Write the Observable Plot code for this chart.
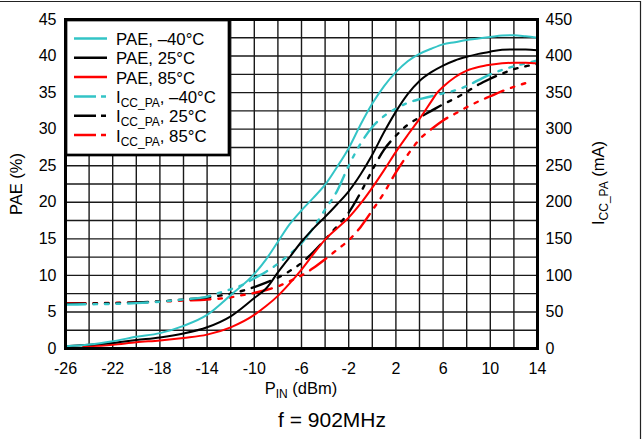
<!DOCTYPE html>
<html><head><meta charset="utf-8">
<script src="https://cdn.jsdelivr.net/npm/d3@7"></script>
<script src="https://cdn.jsdelivr.net/npm/@observablehq/plot@0.6"></script>
<style>
body{margin:0;background:#fff;}
#chart{position:relative;width:644px;height:439px;overflow:hidden;}
</style></head><body><div id="chart"></div>
<script>
// ---- data ----
const pae40X = [-26,-24,-22,-20,-18,-16,-14,-12,-10,-9,-8,-7,-6,-5,-4,-3,-2,-1,0,1,2,3,4,5,6,7,8,9,10,11,12,13,14];
const pae40Y = [0.3,0.55,1.0,1.6,2.1,3.1,4.6,7.3,10.2,12.2,14.6,17.0,18.9,20.6,22.4,24.8,27.4,30.6,33.5,35.9,37.8,39.3,40.3,41.0,41.6,41.9,42.2,42.4,42.6,42.8,42.85,42.7,42.5];
const pae25X = [-26,-24,-22,-20,-18,-16,-14,-12,-10,-9,-8,-7,-6,-5,-4,-3,-2,-1,0,1,2,3,4,5,6,7,8,9,10,11,12,13,14];
const pae25Y = [0.3,0.5,0.75,1.15,1.5,2.05,2.9,4.4,6.9,8.2,10.4,12.5,14.6,16.4,18.0,19.7,21.5,23.8,26.5,29.6,32.4,34.8,36.6,37.8,38.7,39.4,39.9,40.3,40.6,40.85,40.9,40.9,40.8];
const pae85X = [-24.5,-22,-20,-18,-16,-14,-12,-10,-9,-8,-7,-6,-5,-4,-3,-2,-1,0,1,2,3,4,5,5.5,6,7,8,9,10,11,12,13,14];
const pae85Y = [0.25,0.5,0.85,1.1,1.45,1.9,2.9,4.6,5.8,7.2,8.9,10.8,12.9,14.9,16.4,17.9,19.8,22.0,24.4,26.9,29.2,31.4,33.8,35.0,35.8,37.1,38.0,38.5,38.8,39.0,39.1,39.1,39.0];
const icc40X = [-26,-24,-22,-20,-18,-16,-14,-13,-12,-11,-10,-9,-8,-7,-6,-5,-4,-3,-2,-1,0,1,2,3,4,5,6,7,8,9,10,11,12,13,14];
const icc40Y = [60,60.5,61,62,64,67,71,76,81,87,96,105,116,129,144,165,190,215,250,280,303,318,328,336,341,345,349,353,359,367,375,381,386,390,394];
const icc25X = [-26,-24,-22,-20,-18,-16,-14,-12,-11,-10,-9,-8,-7,-6,-5,-4,-3,-2,-1,0,1,2,3,4,5,6,7,8,9,10,11,12,13,14];
const icc25Y = [61,61.5,62,63,64.5,67,70,75,79,84,90,97,106,117,132,149,167,186,213,244,272,291,306,316,325,334,342,351,361,369,376,382,386,389];
const icc85X = [-26,-24,-22,-20,-18,-16,-14,-12,-11,-10,-9,-8,-7,-6,-5,-4,-3,-2,-1,0,1,2,3,4,5,6,7,8,9,10,11,12,13,13.4];
const icc85Y = [62,62,62.5,63,64,65.5,67,70,73,76,80,85,92,100,110,122,135,148,166,189,213,241,265,286,300,312,321,330,338,345,352,358,363,365];

const xTicks = [-26,-22,-18,-14,-10,-6,-2,2,6,10,14];
const paeTicks = [0,5,10,15,20,25,30,35,40,45];
const iccTicks = [0,50,100,150,200,250,300,350,400,450];
const legendLabels = ["PAE, \u201340\u00B0C","PAE, 25\u00B0C","PAE, 85\u00B0C",", \u201340\u00B0C",", 25\u00B0C",", 85\u00B0C"];

const CYAN = "#33c4c6", BLACK = "#000000", RED = "#ff0000";
const MA_PER_PCT = 10; // right axis: 450 mA at 45 %
const DASH = "20,8,3.5,8,3.5,8,3.5,8";

const rows = (xs, ys, k = 1) => xs.map((x, i) => ({x, y: ys[i] / k}));

const font = "Liberation Sans, Arial, Helvetica, sans-serif";
const W = 644, H = 439, ML = 65, MR = 107, MT = 19, MB = 91;

const solid = (d, c) => Plot.line(d, {x: "x", y: "y", stroke: c, strokeWidth: 2, curve: "monotone-x"});
const dashed = (d, c) => Plot.line(d, {x: "x", y: "y", stroke: c, strokeWidth: 2.4, strokeDasharray: DASH, curve: "monotone-x"});

const plot = Plot.plot({
  width: W, height: H,
  marginLeft: ML, marginRight: MR, marginTop: MT, marginBottom: MB,
  style: {fontFamily: font, fontSize: "16px", color: "#000", background: "#fff"},
  x: {domain: [-26, 14]},
  y: {domain: [0, 45]},
  marks: [
    Plot.ruleX(d3.range(-26, 14.01, 2), {stroke: "#1a1a1a", strokeWidth: 1.4, strokeOpacity: 1}),
    Plot.ruleY(d3.range(0, 45.01, 2.5), {stroke: "#1a1a1a", strokeWidth: 1.4, strokeOpacity: 1}),
    dashed(rows(icc85X, icc85Y, MA_PER_PCT), RED),
    dashed(rows(icc25X, icc25Y, MA_PER_PCT), BLACK),
    dashed(rows(icc40X, icc40Y, MA_PER_PCT), CYAN),
    solid(rows(pae85X, pae85Y), RED),
    solid(rows(pae25X, pae25Y), BLACK),
    solid(rows(pae40X, pae40Y), CYAN),
    Plot.axisX({ticks: xTicks, tickFormat: d => String(d), tickSize: 0, tickPadding: 14, fontSize: 16, label: null}),
    Plot.axisY({ticks: paeTicks, tickFormat: d => String(d), tickSize: 0, tickPadding: 9, fontSize: 16, label: null}),
    Plot.axisY({anchor: "right", ticks: iccTicks.map(v => v / MA_PER_PCT), tickFormat: d => String(Math.round(d * MA_PER_PCT)), tickSize: 0, tickPadding: 8, fontSize: 16, label: null}),
    Plot.frame({stroke: "#000", strokeWidth: 3})
  ]
});
document.getElementById("chart").append(plot);

const svg = d3.select(plot);
function richText(sel, parts) {
  let shift = 0;
  parts.forEach(p => {
    const ts = sel.append("tspan").text(p.t);
    const target = p.sub ? 4 : 0;
    if (target !== shift) { ts.attr("dy", target - shift); shift = target; }
    if (p.sub) ts.attr("font-size", "12px");
  });
}

// outer border (top and right)
svg.append("line").attr("x1", 0).attr("x2", 641).attr("y1", 1.5).attr("y2", 1.5).attr("stroke", "#222").attr("stroke-width", 1.2);
svg.append("line").attr("x1", 640.5).attr("x2", 640.5).attr("y1", 1).attr("y2", H).attr("stroke", "#222").attr("stroke-width", 1.2);

// legend
const lg = svg.append("g").attr("font-family", font).attr("font-size", "16.8px").attr("text-anchor", "start");
lg.append("rect").attr("x", 66).attr("y", 20).attr("width", 163).attr("height", 135)
  .attr("fill", "#fff").attr("stroke", "#000").attr("stroke-width", 2.7);
const lcol = [CYAN, BLACK, RED, CYAN, BLACK, RED];
legendLabels.forEach((lab, i) => {
  const base = 45 + i * 19.3;
  lg.append("line").attr("x1", 74).attr("x2", 107).attr("y1", base - 6.5).attr("y2", base - 6.5)
    .attr("stroke", lcol[i]).attr("stroke-width", 2.5)
    .attr("stroke-dasharray", i >= 3 ? "22,5,5,20" : null);
  const t = lg.append("text").attr("x", 116).attr("y", base).attr("fill", "#000").attr("text-anchor", "start");
  if (i < 3) t.text(lab);
  else richText(t, [{t: "I"}, {t: "CC_PA", sub: true}, {t: lab}]);
});

// axis titles
const xl = svg.append("text").attr("x", 301).attr("y", 394).attr("text-anchor", "middle")
  .attr("font-family", font).attr("font-size", "16.5px");
richText(xl, [{t: "P"}, {t: "IN", sub: true}, {t: " (dBm)"}]);

svg.append("text").attr("transform", "translate(22,184) rotate(-90)").attr("text-anchor", "middle")
  .attr("font-family", font).attr("font-size", "16.5px").text("PAE (%)");

const yr = svg.append("text").attr("transform", "translate(604,183) rotate(-90)").attr("text-anchor", "middle")
  .attr("font-family", font).attr("font-size", "16.5px");
richText(yr, [{t: "I"}, {t: "CC_PA", sub: true}, {t: " (mA)"}]);

svg.append("text").attr("x", 332).attr("y", 427).attr("text-anchor", "middle")
  .attr("font-family", font).attr("font-size", "21px").text("f = 902MHz");
</script>
</body></html>
